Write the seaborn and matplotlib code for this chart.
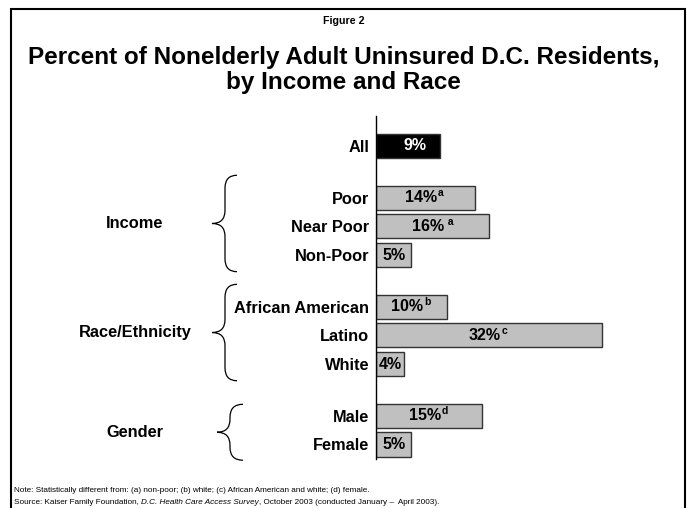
import matplotlib
matplotlib.use("Agg")
import matplotlib.pyplot as plt
from matplotlib.path import Path
from matplotlib.patches import PathPatch, Rectangle
from matplotlib import transforms
import seaborn as sns

# Data
groups = ["", "Income", "Race/Ethnicity", "Gender"]
categories = [["All"],
              ["Poor", "Near Poor", "Non-Poor"],
              ["African American", "Latino", "White"],
              ["Male", "Female"]]
percent = [[9], [14, 16, 5], [10, 32, 4], [15, 5]]
superscripts = [[""], ["a", " a", ""], ["b", "c", ""], ["d", ""]]

sns.set_style("white")
plt.rcParams['font.family'] = ['Liberation Sans', 'DejaVu Sans']
plt.rcParams['text.color'] = 'black'
plt.rcParams['ytick.color'] = 'black'
plt.rcParams['ytick.labelcolor'] = 'black'

W, H = 687, 508
fig = plt.figure(figsize=(W / 100, H / 100), dpi=100)

# axes placed in pixel terms: x=0 at 376px, 7.06px per percent
ax = fig.add_axes([376 / W, 1 - 458.8 / H, 40 * 7.06 / W, (458.8 - 116) / H])

# layout: one slot per bar, wider gap between groups
gap = 0.8
labels, values, sups, pos_list, grp_of = [], [], [], [], []
y = 0.0
for gi, (cats, vals, ss) in enumerate(zip(categories, percent, superscripts)):
    if gi > 0:
        y += gap
    for c, v, s in zip(cats, vals, ss):
        labels.append(c)
        values.append(v)
        sups.append(s)
        pos_list.append(y)
        grp_of.append(gi)
        y += 1

palette = {c: ("black" if c == "All" else "#C0C0C0") for c in labels}
sns.barplot(x=values, y=pos_list, hue=labels, palette=palette, orient="h",
            native_scale=True, width=0.84, legend=False, ax=ax,
            edgecolor="#333333", linewidth=1, saturation=1)

ax.set_xlim(0, 40)
ax.set_ylim(10.9, -1.045)
ax.set_xticks([])
ax.set_yticks(pos_list)
ax.set_yticklabels(labels, fontsize=11.8, fontweight="bold", color="black")
ax.tick_params(axis="y", length=0, pad=5)
ax.set_xlabel("")
ax.set_ylabel("")
for side in ["top", "right", "bottom"]:
    ax.spines[side].set_visible(False)
ax.spines["left"].set_color("black")
ax.spines["left"].set_linewidth(1)
ax.grid(False)

# value labels with superscripts
for v, p, s, c in zip(values, pos_list, sups, labels):
    dx = -3 if s else 0
    if c == "All":
        dx = 5
    col = "white" if c == "All" else "black"
    t = ax.annotate(f"{v}%", xy=(v / 2, p), xytext=(dx, 0), textcoords="offset points",
                    ha="center", va="center", fontsize=11.5, fontweight="bold", color=col)
    if s:
        ax.annotate(s, xy=(1, 1), xycoords=t, xytext=(0.5, 1.5), textcoords="offset points",
                    ha="left", va="top", fontsize=7.5, fontweight="bold", color=col)

# braces and group labels
blend = transforms.blended_transform_factory(fig.transFigure, ax.transData)


def brace(top, bot, x0, xm, x1):
    mid = (top + bot) / 2
    r = 0.45
    verts = [(x1, top), (xm, top), (xm, top + r),
             (xm, mid - r), (xm, mid), (x0, mid),
             (xm, mid), (xm, mid + r),
             (xm, bot - r), (xm, bot), (x1, bot)]
    codes = [Path.MOVETO, Path.CURVE3, Path.CURVE3,
             Path.LINETO, Path.CURVE3, Path.CURVE3,
             Path.CURVE3, Path.CURVE3,
             Path.LINETO, Path.CURVE3, Path.CURVE3]
    ax.add_patch(PathPatch(Path(verts, codes), transform=blend, fill=False,
                           edgecolor="black", linewidth=0.9, clip_on=False))
    return mid


for gi, g in enumerate(groups):
    if not g:
        continue
    ps = [p for p, k in zip(pos_list, grp_of) if k == gi]
    top = ps[0] - 0.78
    bot = ps[-1] + 0.58
    if gi == 3:
        top, bot = ps[0] - 0.4, ps[-1] + 0.55
        xs = (217 / W, 230 / W, 243 / W)
    else:
        xs = (212 / W, 225 / W, 237 / W)
    mid = brace(top, bot, *xs)
    ax.text(135 / W, mid, g, transform=blend, ha="center", va="center",
            fontsize=11.8, fontweight="bold")

# titles
fig.text(0.5, 1 - 21 / H, "Figure 2", ha="center", va="center", fontsize=7.7, fontweight="bold")
fig.text(0.5, 1 - 70 / H, "Percent of Nonelderly Adult Uninsured D.C. Residents,\nby Income and Race",
         ha="center", va="center", fontsize=17.5, fontweight="bold", linespacing=1.15)

# footnotes
fs = 5.85
fig.text(14 / W, 1 - 491 / H,
         "Note: Statistically different from: (a) non-poor; (b) white; (c) African American and white; (d) female.",
         ha="left", va="center", fontsize=fs)
src = fig.text(14 / W, 1 - 502.5 / H, "Source: Kaiser Family Foundation, ",
               ha="left", va="center", fontsize=fs)
src2 = fig.text(0, 0, "D.C. Health Care Access Survey", fontsize=fs, style="italic")
fig.canvas.draw()
r = fig.canvas.get_renderer()
bb = src.get_window_extent(r)
src2.set_position((bb.x1 / W, 1 - 502.5 / H))
src2.set_va("center")
bb2 = src2.get_window_extent(r)
fig.text(bb2.x1 / W, 1 - 502.5 / H, ", October 2003 (conducted January \u2013  April 2003).",
         ha="left", va="center", fontsize=fs)

# frame
fig.patches.append(Rectangle((11 / W, -0.1), 674 / W, 1.1 - 9.5 / H, transform=fig.transFigure,
                             fill=False, edgecolor="black", linewidth=1.5))

fig.savefig("out.png", dpi=100)
